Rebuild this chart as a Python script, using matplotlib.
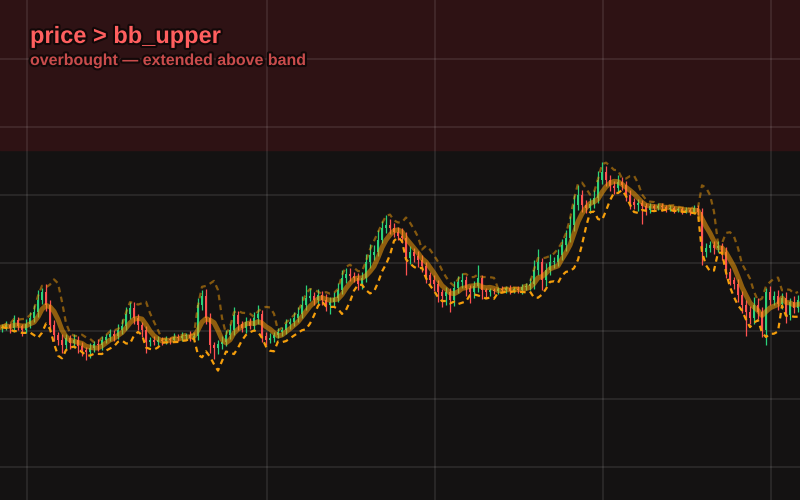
import numpy as np
import pandas as pd
import matplotlib
matplotlib.use('Agg')
import matplotlib.pyplot as plt
import matplotlib.patheffects as pe

# closes, one per candle (open = previous close)
closes = [
    120.6, 120.9, 120.4, 121.6, 120.7, 120.1, 121.0, 121.9, 122.8, 124.6,
    125.7, 123.8, 120.9, 119.4, 118.7, 117.9, 119.0, 118.2, 118.7, 117.8,
    117.2, 116.9, 117.5, 118.1, 117.9, 118.7, 119.1, 119.6, 119.3, 120.1,
    120.7, 122.5, 123.4, 121.9, 120.9, 120.1, 118.4, 118.7, 118.4, 118.7,
    118.5, 118.8, 118.7, 119.1, 119.0, 119.3, 119.4, 119.0, 119.3, 123.8,
    125.1, 121.9, 117.9, 117.5, 118.1, 118.4, 119.4, 120.1, 122.4, 121.0,
    120.4, 121.3, 120.8, 121.9, 122.5, 119.3, 118.7, 119.0, 119.4, 119.9,
    120.1, 121.0, 121.3, 121.9, 122.5, 123.8, 124.9, 125.1, 124.6, 125.3,
    124.6, 123.8, 124.3, 124.9, 126.0, 127.8, 128.4, 128.1, 127.8, 126.9,
    127.8, 130.1, 131.2, 131.6, 133.4, 135.1, 135.6, 135.1, 134.6, 134.0,
    133.7, 130.7, 131.6, 131.0, 130.4, 129.6, 128.2, 127.5, 126.9, 125.7,
    125.1, 125.7, 124.6, 126.3, 127.2, 127.5, 126.3, 125.7, 126.6, 127.8,
    126.0, 125.7, 126.0, 125.9, 126.2, 126.0, 126.3, 125.9, 126.2, 126.0,
    126.5, 126.6, 126.9, 129.0, 130.1, 127.5, 129.0, 130.1, 130.1, 131.2,
    132.6, 133.7, 135.6, 138.5, 140.0, 138.5, 138.1, 138.7, 139.6, 142.2,
    143.4, 142.2, 141.3, 141.0, 141.9, 141.5, 140.0, 139.0, 138.5, 138.8,
    138.4, 137.8, 138.4, 138.1, 138.4, 138.2, 137.9, 138.1, 137.8, 137.9,
    137.6, 137.8, 137.5, 138.1, 137.5, 131.6, 132.2, 132.6, 132.2, 132.5,
    131.6, 128.7, 127.5, 126.9, 125.3, 123.8, 122.8, 121.9, 123.8, 122.8,
    120.1, 125.7, 124.6, 125.1, 124.0, 124.9, 122.4, 124.3, 123.4, 124.6,
]
first_open = 120.4

# upper / lower wick lengths beyond the body
wick_up = [
    0.4, 0.6, 0.3, 0.8, 0.5, 0.4, 0.7, 0.9, 1.0, 1.4,
    0.6, 1.2, 0.8, 0.7, 0.5, 0.9, 0.6, 0.4, 0.8, 0.5,
    0.6, 0.4, 0.7, 0.5, 0.8, 0.6, 0.4, 0.7, 0.5, 0.9,
    1.0, 1.1, 0.8, 0.9, 0.6, 0.5, 0.7, 0.4, 0.6, 0.5,
    0.4, 0.5, 0.3, 0.6, 0.4, 0.5, 0.3, 0.6, 0.4, 1.0,
    0.9, 1.1, 0.7, 0.5, 0.6, 0.8, 0.7, 0.9, 1.2, 0.6,
    0.5, 0.7, 0.6, 0.9, 1.3, 0.6, 0.5, 0.7, 0.4, 0.6,
    0.5, 0.8, 0.6, 0.9, 1.0, 1.3, 1.8, 1.2, 0.7, 0.9,
    0.6, 0.8, 0.7, 0.9, 1.1, 1.2, 0.8, 0.9, 0.6, 0.7,
    0.9, 1.3, 1.6, 1.0, 1.4, 1.1, 1.5, 0.9, 0.8, 0.7,
    1.2, 0.8, 0.9, 0.6, 0.7, 0.8, 0.6, 0.5, 0.7, 0.6,
    0.5, 0.8, 0.6, 1.0, 0.9, 1.1, 0.6, 0.5, 0.8, 1.9,
    0.5, 0.4, 0.3, 0.4, 0.3, 0.4, 0.3, 0.4, 0.3, 0.4,
    0.4, 0.5, 0.9, 1.4, 1.9, 0.7, 1.0, 1.3, 0.8, 0.9,
    1.0, 1.2, 1.3, 1.5, 1.5, 0.8, 0.7, 0.9, 1.1, 1.3,
    1.5, 0.9, 0.8, 0.7, 1.0, 0.8, 0.6, 0.7, 0.5, 0.6,
    0.4, 0.5, 0.4, 0.3, 0.5, 0.4, 0.3, 0.4, 0.3, 0.4,
    0.3, 0.4, 0.3, 0.5, 0.4, 0.6, 0.8, 0.7, 0.6, 0.8,
    0.5, 0.7, 0.6, 0.5, 0.8, 0.6, 0.7, 0.9, 1.2, 1.1,
    0.8, 0.6, 0.9, 0.8, 1.0, 0.7, 0.9, 0.6, 0.8, 0.7,
]
wick_dn = [
    0.5, 0.4, 0.7, 0.5, 0.6, 0.8, 0.4, 0.6, 0.5, 0.7,
    0.6, 0.9, 1.0, 0.8, 0.7, 1.1, 0.6, 0.9, 0.7, 1.0,
    0.9, 1.2, 0.8, 0.6, 0.9, 0.7, 0.5, 0.6, 0.8, 0.5,
    0.6, 0.5, 0.7, 0.9, 0.8, 1.0, 1.6, 0.6, 0.5, 0.4,
    0.5, 0.4, 0.6, 0.3, 0.5, 0.4, 0.6, 0.4, 0.5, 0.6,
    0.7, 0.9, 1.2, 1.6, 0.9, 0.7, 0.6, 0.5, 0.7, 0.8,
    0.6, 0.7, 0.5, 0.6, 0.8, 0.9, 0.7, 0.5, 0.6, 0.4,
    0.6, 0.5, 0.7, 0.6, 0.5, 0.6, 0.7, 0.5, 0.8, 0.6,
    0.7, 0.9, 1.3, 0.6, 0.7, 0.5, 0.8, 0.7, 0.6, 0.9,
    0.7, 0.6, 0.8, 0.7, 0.6, 0.5, 0.7, 0.9, 0.8, 0.6,
    0.7, 2.4, 0.9, 0.8, 1.0, 0.9, 1.1, 0.8, 1.0, 1.4,
    1.6, 1.2, 1.8, 0.9, 0.7, 0.8, 1.2, 1.6, 0.9, 0.8,
    1.3, 0.9, 0.5, 0.4, 0.5, 0.3, 0.4, 0.5, 0.3, 0.4,
    0.5, 0.4, 0.6, 0.7, 0.8, 1.5, 0.9, 0.7, 0.8, 0.6,
    0.7, 0.8, 0.6, 0.9, 0.7, 1.0, 0.8, 0.7, 0.6, 0.8,
    0.6, 0.9, 0.7, 0.8, 0.6, 0.7, 0.9, 1.0, 0.6, 0.8,
    2.6, 0.7, 0.5, 0.4, 0.3, 0.5, 0.4, 0.3, 0.4, 0.3,
    0.4, 0.3, 0.4, 0.3, 0.5, 1.9, 0.7, 0.6, 0.8, 0.6,
    1.2, 0.9, 0.8, 0.7, 1.0, 1.2, 3.6, 0.9, 0.8, 1.0,
    1.0, 2.2, 0.8, 0.7, 0.9, 0.7, 1.2, 0.8, 0.7, 0.6,
]

grid_x = [6.25, 66.25, 108.25, 150.25, 192.25]
grid_y = [100, 110, 120, 130, 140, 150, 160]
zone_low = 146.6
bb_window = 5

close = np.array(closes)
open_ = np.concatenate([[first_open], close[:-1]])
high = np.maximum(open_, close) + np.array(wick_up)
low = np.minimum(open_, close) - np.array(wick_dn)
x = np.arange(len(close))
colors = np.where(close >= open_, '#2bd27a', '#ff5252')

s = pd.Series(close)
mid = s.rolling(bb_window, min_periods=1).mean()
sd = s.rolling(bb_window, min_periods=1).std(ddof=0)
upper = mid + 2 * sd
lower = mid - 2 * sd

bg = '#141212'
fig = plt.figure(figsize=(8, 5), dpi=100)
fig.patch.set_facecolor(bg)
ax = fig.add_axes([0, 0, 1, 1])
ax.set_facecolor(bg)
ax.axhspan(zone_low, 200, color='#2e1214', zorder=0)

for gx in grid_x:
    ax.axvline(gx, color='white', alpha=0.09, lw=1.4, zorder=1)
for gy in grid_y:
    ax.axhline(gy, color='white', alpha=0.09, lw=1.4, zorder=1)

ax.vlines(x, low, high, colors=colors, lw=0.9, zorder=2)
ax.bar(x, np.maximum(np.abs(close - open_), 0.15), bottom=np.minimum(open_, close),
       width=0.6, color=colors, zorder=3)

ax.plot(x, mid, color='#f59e0b', alpha=0.55, lw=3.6, zorder=4)
ax.plot(x, upper, color='#f59e0b', alpha=0.5, lw=1.6, dashes=(2.5, 2), zorder=4)
ax.plot(x, lower, color='#f59e0b', lw=1.6, dashes=(2.5, 2), zorder=4)

ax.set_xlim(-0.5, len(close) - 0.5)
ax.set_ylim(95.15, 168.68)
ax.axis('off')

stroke = [pe.withStroke(linewidth=3, foreground='#120808')]
fig.text(30 / 800, 1 - 43 / 500, 'price > bb_upper', fontsize=17, weight='bold',
         color='#ff5f5f', family='Liberation Sans', va='baseline', path_effects=stroke)
fig.text(30 / 800, 1 - 65 / 500, 'overbought \u2014 extended above band', fontsize=11.5,
         weight='bold', color='#c94c4c', family='Liberation Sans', va='baseline',
         path_effects=stroke)

fig.savefig('out.png', dpi=100, facecolor=bg)
